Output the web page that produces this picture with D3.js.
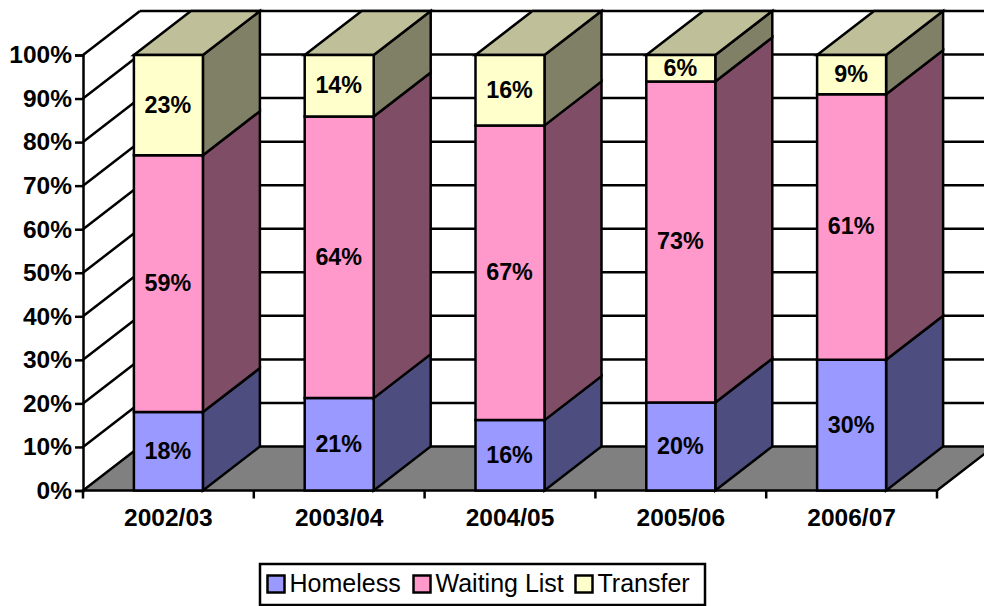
<!DOCTYPE html>
<html>
<head>
<meta charset="utf-8">
<script src="https://cdn.jsdelivr.net/npm/d3@7"></script>
<style>
html, body { margin: 0; padding: 0; background: #fff; }
svg { display: block; font-family: "Liberation Sans", Arial, sans-serif; }
text { fill: #000; }
.axis text { font-weight: bold; font-size: 24.5px; }
.barlabel { font-weight: bold; font-size: 23.3px; text-anchor: middle; }
.legend text { font-size: 25px; }
</style>
</head>
<body>
<div id="chart"></div>
<script>
var years = ["2002/03", "2003/04", "2004/05", "2005/06", "2006/07"];
var seriesNames = ["Homeless", "Waiting List", "Transfer"];
var homeless = [18, 21, 16, 20, 30];
var waitingList = [59, 64, 67, 73, 61];
var transfer = [23, 14, 16, 6, 9];
var yTicks = [0, 10, 20, 30, 40, 50, 60, 70, 80, 90, 100];

var frontColors = ["#9999ff", "#ff99cc", "#ffffcc"];
var sideColors = ["#4d4d80", "#804d66", "#808066"];
var topColors = ["#7373bf", "#bf7399", "#bfbf99"];

var width = 984, height = 606;
var lineW = 2.5;
// how far the 3d box goes back
var depthX = 57, depthY = -44;

var svg = d3.select("#chart").append("svg")
	.attr("width", width)
	.attr("height", height);

var x = d3.scaleBand().domain(years).range([83, 937]).paddingInner(0.596).paddingOuter(0.298);
var xEdge = d3.scaleLinear().domain([0, years.length]).range([83, 937]);
var y = d3.scaleLinear().domain([0, 1]).range([490.5, 55]);

// the bars are 100% stacked, labels do not always add up to 100
var rows = years.map(function(yr, i) {
	return {year: yr, "Homeless": homeless[i], "Waiting List": waitingList[i], "Transfer": transfer[i]};
});
var stacked = d3.stack().keys(seriesNames).offset(d3.stackOffsetExpand)(rows);

function poly(points) {
	return "M" + points.map(function(p) {return p.join(",");}).join("L") + "Z";
}

var walls = svg.append("g").attr("class", "walls");

// left wall diagonals and back wall lines
walls.selectAll("line.grid")
	.data(yTicks.filter(function(t) {return t > 0;}))
	.enter()
	.append("line")
	.attr("class", "grid")
	.attr("x1", x.range()[0] + depthX)
	.attr("x2", x.range()[1] + depthX)
	.attr("y1", function(t) {return y(t / 100) + depthY;})
	.attr("y2", function(t) {return y(t / 100) + depthY;})
	.attr("stroke", "#000").attr("stroke-width", lineW);

walls.selectAll("line.diag")
	.data(yTicks.filter(function(t) {return t > 0;}))
	.enter()
	.append("line")
	.attr("class", "diag")
	.attr("x1", x.range()[0])
	.attr("x2", x.range()[0] + depthX)
	.attr("y1", function(t) {return y(t / 100);})
	.attr("y2", function(t) {return y(t / 100) + depthY;})
	.attr("stroke", "#000").attr("stroke-width", lineW);

// floor
walls.append("path")
	.attr("d", poly([
		[xEdge(0), y(0)],
		[xEdge(years.length), y(0)],
		[xEdge(years.length) + depthX, y(0) + depthY],
		[xEdge(0) + depthX, y(0) + depthY]
	]))
	.attr("fill", "#808080")
	.attr("stroke", "#000").attr("stroke-width", lineW);

// bars, one column at a time, bottom segment first
var bars = svg.append("g").attr("class", "bars");
years.forEach(function(yr, i) {
	var x0 = x(yr), x1 = x(yr) + x.bandwidth();
	stacked.forEach(function(s, k) {
		var y0 = y(s[i][0]), y1 = y(s[i][1]);
		var g = bars.append("g")
			.attr("stroke", "#000").attr("stroke-width", lineW).attr("stroke-linejoin", "miter");
		g.append("path")
			.attr("d", poly([[x1, y0], [x1 + depthX, y0 + depthY], [x1 + depthX, y1 + depthY], [x1, y1]]))
			.attr("fill", sideColors[k]);
		if (k == stacked.length - 1) {
			g.append("path")
				.attr("d", poly([[x0, y1], [x1, y1], [x1 + depthX, y1 + depthY], [x0 + depthX, y1 + depthY]]))
				.attr("fill", topColors[k]);
		}
		g.append("path")
			.attr("d", poly([[x0, y0], [x1, y0], [x1, y1], [x0, y1]]))
			.attr("fill", frontColors[k]);
	});
});

// data labels go on last so nothing covers them
var labelValues = [homeless, waitingList, transfer];
var labels = svg.append("g").attr("class", "labels");
stacked.forEach(function(s, k) {
	labels.selectAll("text.s" + k)
		.data(s)
		.enter()
		.append("text")
		.attr("class", "barlabel s" + k)
		.attr("x", function(d) {return x(d.data.year) + x.bandwidth() / 2 - 0.5;})
		.attr("y", function(d) {return (y(d[0]) + y(d[1])) / 2;})
		.attr("dy", "0.32em")
		.text(function(d, i) {return labelValues[k][i] + "%";});
});

// y axis
var yAxis = d3.axisLeft(y)
	.tickValues(yTicks.map(function(t) {return t / 100;}))
	.tickFormat(d3.format(".0%"))
	.tickSize(8)
	.tickPadding(3);
var yG = svg.append("g")
	.attr("class", "axis")
	.attr("transform", "translate(" + x.range()[0] + ",0)")
	.call(yAxis);
yG.selectAll("path, line").attr("stroke", "#000").attr("stroke-width", lineW);

// x axis: the labels come from the band scale, the ticks sit on the category edges
var xAxis = d3.axisBottom(x).tickSize(0).tickPadding(18);
var xG = svg.append("g")
	.attr("class", "axis")
	.attr("transform", "translate(0," + y(0) + ")")
	.call(xAxis);
xG.select("path").remove();
xG.selectAll("text").attr("dy", "0.71em");
svg.append("g")
	.selectAll("line")
	.data(d3.range(years.length + 1))
	.enter()
	.append("line")
	.attr("x1", function(d) {return xEdge(d);})
	.attr("x2", function(d) {return xEdge(d);})
	.attr("y1", y(0))
	.attr("y2", y(0) + 8)
	.attr("stroke", "#000").attr("stroke-width", lineW);

// legend
var legend = svg.append("g").attr("class", "legend");
legend.append("rect")
	.attr("x", 260).attr("y", 564)
	.attr("width", 445).attr("height", 41)
	.attr("fill", "#fff").attr("stroke", "#000").attr("stroke-width", lineW);
var legendX = [267.5, 413.5, 575.5];
seriesNames.forEach(function(name, k) {
	legend.append("rect")
		.attr("x", legendX[k]).attr("y", 575.5)
		.attr("width", 17).attr("height", 17)
		.attr("fill", frontColors[k]).attr("stroke", "#000").attr("stroke-width", lineW);
	legend.append("text")
		.attr("x", legendX[k] + 22)
		.attr("y", 592)
		.text(name);
});
</script>
</body>
</html>
